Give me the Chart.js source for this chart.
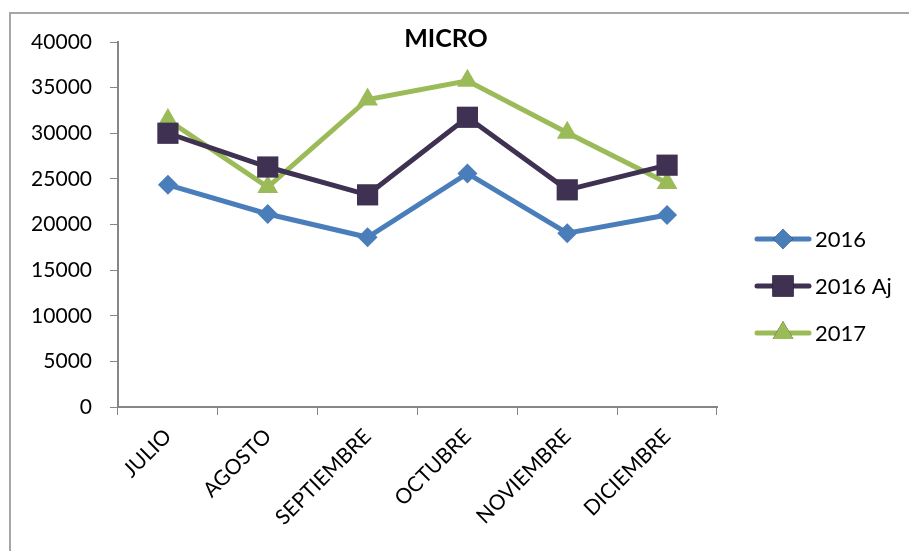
<!DOCTYPE html>
<html lang="es">
<head>
<meta charset="UTF-8">
<title>MICRO</title>
<script src="https://cdn.jsdelivr.net/npm/chart.js@4.4.1/dist/chart.umd.min.js"></script>
<style>
    html, body { margin: 0; padding: 0; background: #fff; }
    #wrap { position: relative; width: 909px; height: 551px; }
</style>
</head>
<body>
<div id="wrap"><canvas id="microchart" width="909" height="551"></canvas></div>
<script>
    // data
    var meses = ['JULIO', 'AGOSTO', 'SEPTIEMBRE', 'OCTUBRE', 'NOVIEMBRE', 'DICIEMBRE'];
    var serie2016 = [24350, 21150, 18600, 25600, 19050, 21050];
    var serie2016Aj = [30000, 26300, 23250, 31750, 23800, 26500];
    var serie2017 = [31450, 24100, 33700, 35750, 30050, 24550];
    var nombres = ['2016', '2016 Aj', '2017'];

    var FONT = 'Lato, "Open Sans", sans-serif';
    var AXIS = '#868686';

    // frame, title and legend drawn by hand
    var extras = {
        id: 'extras',
        beforeDraw: function(chart) {
            var c = chart.ctx;
            c.save();
            c.strokeStyle = '#a6a6a6';
            c.lineWidth = 2;
            c.beginPath();
            c.moveTo(10, 560);
            c.lineTo(10, 13);
            c.lineTo(920, 13);
            c.stroke();
            c.restore();
        },
        afterDraw: function(chart) {
            var c = chart.ctx;
            c.save();
            c.fillStyle = '#000';
            c.font = 'bold 25px ' + FONT;
            c.textAlign = 'center';
            c.textBaseline = 'middle';
            c.fillText('MICRO', 446, 39);

            c.font = '22px ' + FONT;
            c.textAlign = 'left';
            chart.data.datasets.forEach(function(ds, i) {
                var y = 239 + i * 47;
                c.strokeStyle = ds.borderColor;
                c.lineWidth = 5;
                c.lineCap = 'round';
                c.beginPath();
                c.moveTo(757, y);
                c.lineTo(809, y);
                c.stroke();
                Chart.helpers.drawPoint(c, {
                    pointStyle: ds.pointStyle,
                    radius: ds.pointRadius,
                    borderWidth: 0,
                    rotation: 0
                }, 783, y);
                c.fillStyle = ds.borderColor;
                c.fill();
                c.fillStyle = '#000';
                c.fillText(nombres[i], 815, y + 1);
            });
            c.restore();
        }
    };

    function serie(label, data, color, style, r) {
        return {
            label: label,
            data: data,
            borderColor: color,
            backgroundColor: color,
            pointBackgroundColor: color,
            pointBorderColor: color,
            pointStyle: style,
            pointRadius: r,
            pointHoverRadius: r,
            pointBorderWidth: 0,
            borderWidth: 5,
            tension: 0,
            fill: false
        };
    }

    new Chart(document.getElementById('microchart').getContext('2d'), {
        type: 'line',
        data: {
            labels: meses,
            datasets: [
                serie(nombres[0], serie2016, '#4a7ebb', 'rectRot', 10),
                serie(nombres[1], serie2016Aj, '#3f3151', 'rect', 15),
                serie(nombres[2], serie2017, '#9bbb59', 'triangle', 12)
            ]
        },
        options: {
            responsive: false,
            animation: false,
            layout: { padding: { left: 10, right: 192, top: 42, bottom: 0 } },
            plugins: {
                legend: { display: false },
                title: { display: false },
                tooltip: { enabled: false }
            },
            scales: {
                x: {
                    offset: true,
                    afterFit: function(s) { s.height = 144; },
                    grid: { drawOnChartArea: false, offset: true, color: AXIS, tickLength: 8 },
                    border: { color: AXIS, width: 2 },
                    ticks: {
                        color: '#000',
                        font: { family: FONT, size: 21 },
                        minRotation: 45,
                        maxRotation: 45,
                        padding: 9,
                        autoSkip: false
                    }
                },
                y: {
                    min: 0,
                    max: 40000,
                    afterFit: function(s) { s.width = 108; },
                    grid: { drawOnChartArea: false, color: AXIS, tickLength: 8 },
                    border: { color: AXIS, width: 2 },
                    ticks: {
                        stepSize: 5000,
                        color: '#000',
                        padding: 18,
                        font: { family: FONT, size: 21 },
                        callback: function(v) { return String(v); }
                    }
                }
            }
        },
        plugins: [extras]
    });
</script>
</body>
</html>
